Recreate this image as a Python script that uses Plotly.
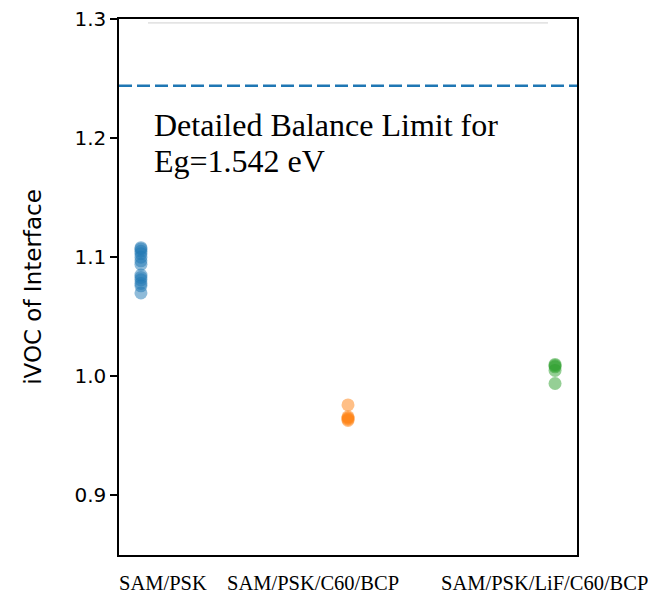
import plotly.graph_objects as go

# ---- data ----
categories = ["SAM/PSK", "SAM/PSK/C60/BCP", "SAM/PSK/LiF/C60/BCP"]
sam_psk = [1.108, 1.107, 1.105, 1.103, 1.100, 1.097, 1.094, 1.085, 1.083, 1.081, 1.078, 1.076, 1.070]
sam_psk_c60_bcp = [0.976, 0.966, 0.965, 0.964, 0.963]
sam_psk_lif_c60_bcp = [1.010, 1.009, 1.008, 1.005, 0.994]
series = [sam_psk, sam_psk_c60_bcp, sam_psk_lif_c60_bcp]
colors = ["#1f77b4", "#ff7f0e", "#2ca02c"]
detailed_balance_limit = 1.244
limit_text = ["Detailed Balance Limit for", "Eg=1.542 eV"]
y_ticks = [0.9, 1.0, 1.1, 1.2, 1.3]
# faint stray line near the top of the frame
stray_x = [0.034, 1.966]
stray_y = [1.2967, 1.2967]

fig = go.Figure()

fig.add_trace(go.Scatter(x=stray_x, y=stray_y, mode="lines",
                         line=dict(color="#d0d0d0", width=1),
                         showlegend=False, hoverinfo="skip"))

for i, vals in enumerate(series):
    fig.add_trace(go.Scatter(
        x=[i] * len(vals), y=vals, mode="markers",
        marker=dict(size=13, color=colors[i], opacity=0.5,
                    line=dict(width=0)),
        showlegend=False, name=categories[i]))

fig.add_shape(type="line", xref="paper", yref="y", x0=0, x1=1,
              y0=detailed_balance_limit, y1=detailed_balance_limit,
              line=dict(color="#1f77b4", width=2.4, dash="13px,5px"))

text_y = [1.2106, 1.1806]
for t, yy in zip(limit_text, text_y):
    fig.add_annotation(x=0.053, y=yy, xref="x", yref="y", text=t,
                       showarrow=False, xanchor="left", yanchor="middle",
                       font=dict(family="Liberation Serif", size=32, color="#000"))

label_x = [0.106, 0.83, 1.95]
for lbl, lx in zip(categories, label_x):
    fig.add_annotation(x=lx, y=-0.052, xref="x", yref="paper", text=lbl,
                       showarrow=False, xanchor="center", yanchor="middle",
                       font=dict(family="Liberation Serif", size=20.5, color="#000"))

fig.update_layout(
    width=640, height=592,
    margin=dict(l=111, r=71, t=9, b=45),
    plot_bgcolor="white", paper_bgcolor="white",
    font=dict(family="DejaVu Sans", color="#000"),
)
fig.update_xaxes(range=[-0.106, 2.106], showgrid=False, zeroline=False,
                 showticklabels=False, ticks="", showline=True,
                 linecolor="black", linewidth=1.5, mirror=True)
fig.update_yaxes(range=[0.85, 1.3], showgrid=False, zeroline=False,
                 automargin=False,
                 tickvals=y_ticks, ticktext=[f"{v:.1f}" for v in y_ticks],
                 ticks="outside", ticklen=7, tickwidth=1.5, tickcolor="black",
                 ticklabeloverflow="allow",
                 tickfont=dict(family="DejaVu Sans", size=20, color="#000"),
                 title=dict(text="iVOC of Interface",
                            font=dict(family="DejaVu Sans", size=23, color="#000"),
                            standoff=26),
                 showline=True, linecolor="black", linewidth=1.5, mirror=True)

fig.write_html("out.html")
